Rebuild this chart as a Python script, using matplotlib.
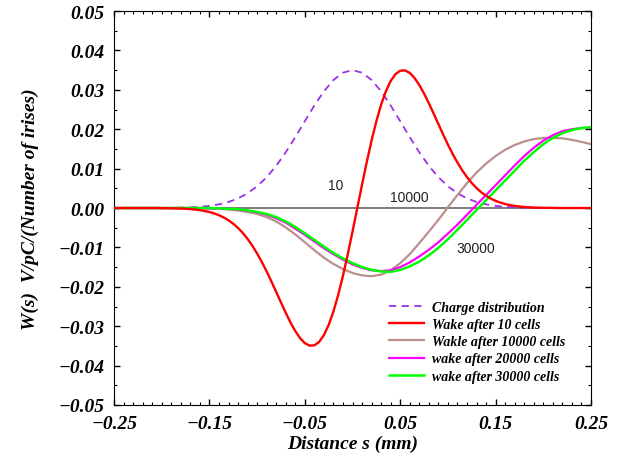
import matplotlib
matplotlib.use("Agg")
import matplotlib.pyplot as plt
from matplotlib.ticker import MultipleLocator
import numpy as np

# distance s (mm), sampled every 0.01 (every 0.005 for the 10-cell wake)
s = np.round(np.arange(-0.25, 0.2501, 0.01), 2)
s_fine = np.round(np.arange(-0.25, 0.2501, 0.005), 3)

charge = [0, 0, 0, 0, 0,
          0.00002, 0.00004, 0.00009, 0.00017, 0.00031, 0.00055, 0.00093, 0.00154, 0.00244, 0.00374,
          0.00551, 0.00783, 0.01072, 0.01414, 0.01799, 0.02204, 0.02604, 0.02963, 0.03250, 0.03436,
          0.03500,
          0.03436, 0.03250, 0.02963, 0.02604, 0.02204, 0.01799, 0.01414, 0.01072, 0.00783, 0.00551,
          0.00374, 0.00244, 0.00154, 0.00093, 0.00055, 0.00031, 0.00017, 0.00009, 0.00004, 0.00002,
          0, 0, 0, 0, 0]

wake10 = [0, 0, 0, 0, 0, 0, 0, 0, 0, 0,
          -0.00003, -0.00004, -0.00006, -0.00009, -0.00013, -0.00019, -0.00027, -0.00039,
          -0.00054, -0.00074, -0.00102, -0.00137, -0.00182, -0.00239, -0.00311, -0.00399,
          -0.00506, -0.00634, -0.00784, -0.00957, -0.01154, -0.01372, -0.01610, -0.01866,
          -0.02131, -0.02398, -0.02660, -0.02906, -0.03123, -0.03302, -0.03430, -0.03494,
          -0.03486, -0.03398, -0.03225, -0.02967, -0.02625, -0.02204, -0.01717, -0.01176,
          -0.00597,
          0.0,
          0.00597, 0.01176, 0.01717, 0.02204, 0.02625, 0.02967, 0.03225, 0.03398,
          0.03486, 0.03494, 0.03430, 0.03302, 0.03123, 0.02906, 0.02660, 0.02398,
          0.02131, 0.01866, 0.01610, 0.01372, 0.01154, 0.00957, 0.00784, 0.00634,
          0.00506, 0.00399, 0.00311, 0.00239, 0.00182, 0.00137, 0.00102, 0.00074,
          0.00054, 0.00039, 0.00027, 0.00019, 0.00013, 0.00009, 0.00006, 0.00004,
          0.00003,
          0, 0, 0, 0, 0, 0, 0, 0]

wake10000 = [0, 0, 0, 0, 0, 0, 0, 0, 0, 0,
             -0.0001, -0.0002, -0.0004, -0.0006, -0.0010, -0.0015, -0.0023, -0.0034, -0.0049, -0.0067,
             -0.0087, -0.0107, -0.0126, -0.0142, -0.0155, -0.0165, -0.0171, -0.0173, -0.0169, -0.0158,
             -0.0140, -0.0117, -0.0089, -0.0060, -0.0030, 0.0002, 0.0033, 0.0063, 0.0090, 0.0113,
             0.0132, 0.0148, 0.0160, 0.0169, 0.0175, 0.0178, 0.0178, 0.0177, 0.0173, 0.0168, 0.0162]

wake20000 = [0, 0, 0, 0, 0, 0, 0, 0, 0, 0,
             -0.0001, -0.0001, -0.0002, -0.0004, -0.0007, -0.0011, -0.0017, -0.0026, -0.0037, -0.0052,
             -0.0068, -0.0085, -0.0102, -0.0117, -0.0131, -0.0143, -0.0152, -0.0158, -0.0160, -0.0158,
             -0.0150, -0.0138, -0.0123, -0.0106, -0.0087, -0.0065, -0.0042, -0.0017, 0.0008, 0.0033,
             0.0058, 0.0083, 0.0108, 0.0132, 0.0153, 0.0171, 0.0185, 0.0195, 0.0200, 0.0203, 0.0204]

wake30000 = [0, 0, 0, 0, 0, 0, 0, 0, 0, 0,
             0.0000, -0.0001, -0.0002, -0.0003, -0.0006, -0.0010, -0.0015, -0.0023, -0.0034, -0.0048,
             -0.0064, -0.0081, -0.0098, -0.0114, -0.0128, -0.0140, -0.0150, -0.0157, -0.0161, -0.0162,
             -0.0157, -0.0148, -0.0136, -0.0120, -0.0101, -0.0079, -0.0055, -0.0030, -0.0005, 0.0020,
             0.0045, 0.0070, 0.0095, 0.0120, 0.0142, 0.0162, 0.0178, 0.0190, 0.0198, 0.0203, 0.0205]

labels = ["Charge distribution", "Wake after 10 cells", "Wakle after 10000 cells",
          "wake after 20000 cells", "wake after 30000 cells"]
notes = ["10", "10000", "30000"]
note_pos = [(-0.018, 0.0058), (0.060, 0.0028), (0.129, -0.0102)]

serif = dict(family="Liberation Serif", weight="bold", style="italic")

fig = plt.figure(figsize=(6.17, 4.64), dpi=100)
ax = fig.add_axes([0.1848, 0.125, 0.7731, 0.849])

ax.axhline(0, color="#666666", lw=1.2, zorder=1)
ax.plot(s, charge, color="#9a32e6", lw=1.3, ls=(0, (4, 3)), label=labels[0], zorder=2)
ax.plot(s_fine, wake10, color="#ff0000", lw=1.7, label=labels[1], zorder=6)
ax.plot(s, wake10000, color="#bc8f8f", lw=1.6, label=labels[2], zorder=3)
ax.plot(s, wake20000, color="#ff00ff", lw=1.6, label=labels[3], zorder=4)
ax.plot(s, wake30000, color="#00ff00", lw=1.8, label=labels[4], zorder=5)

for t, (x, y) in zip(notes, note_pos):
    ax.text(x, y, t, ha="center", va="center", fontsize=10,
            family="Liberation Sans", color="#222222")

ax.set_xlim(-0.25, 0.25)
ax.set_ylim(-0.05, 0.05)
ax.xaxis.set_minor_locator(MultipleLocator(0.01))
ax.yaxis.set_minor_locator(MultipleLocator(0.005))
ax.set_xticks([-0.25, -0.15, -0.05, 0.05, 0.15, 0.25])
ax.set_xticklabels(["\u22120.25", "\u22120.15", "\u22120.05", "0.05", "0.15", "0.25"])
yt = np.round(np.arange(-0.05, 0.0501, 0.01), 2)
ax.set_yticks(yt)
ax.set_yticklabels([("\u2212" if v < 0 else "") + "%.2f" % abs(v) for v in yt])
ax.tick_params(which="both", direction="in", top=True, right=True)
ax.tick_params(which="major", length=4, width=1, pad=7)
ax.tick_params(which="minor", length=2, width=0.8)
for lab in ax.get_xticklabels() + ax.get_yticklabels():
    lab.set_fontproperties(matplotlib.font_manager.FontProperties(size=14, **serif))

ax.set_xlabel("Distance s (mm)", fontsize=14, labelpad=2, **serif)
ax.set_ylabel("W(s)  V/pC/(Number of irises)", fontsize=14, labelpad=14, **serif)

leg = ax.legend(loc="upper left", bbox_to_anchor=(382 / 617, 1 - 295 / 464),
                bbox_transform=fig.transFigure, frameon=False, borderpad=0,
                handlelength=2.5, handletextpad=0.6, labelspacing=0.3,
                prop=matplotlib.font_manager.FontProperties(size=10, **serif))

fig.savefig("out.png", dpi=100)
